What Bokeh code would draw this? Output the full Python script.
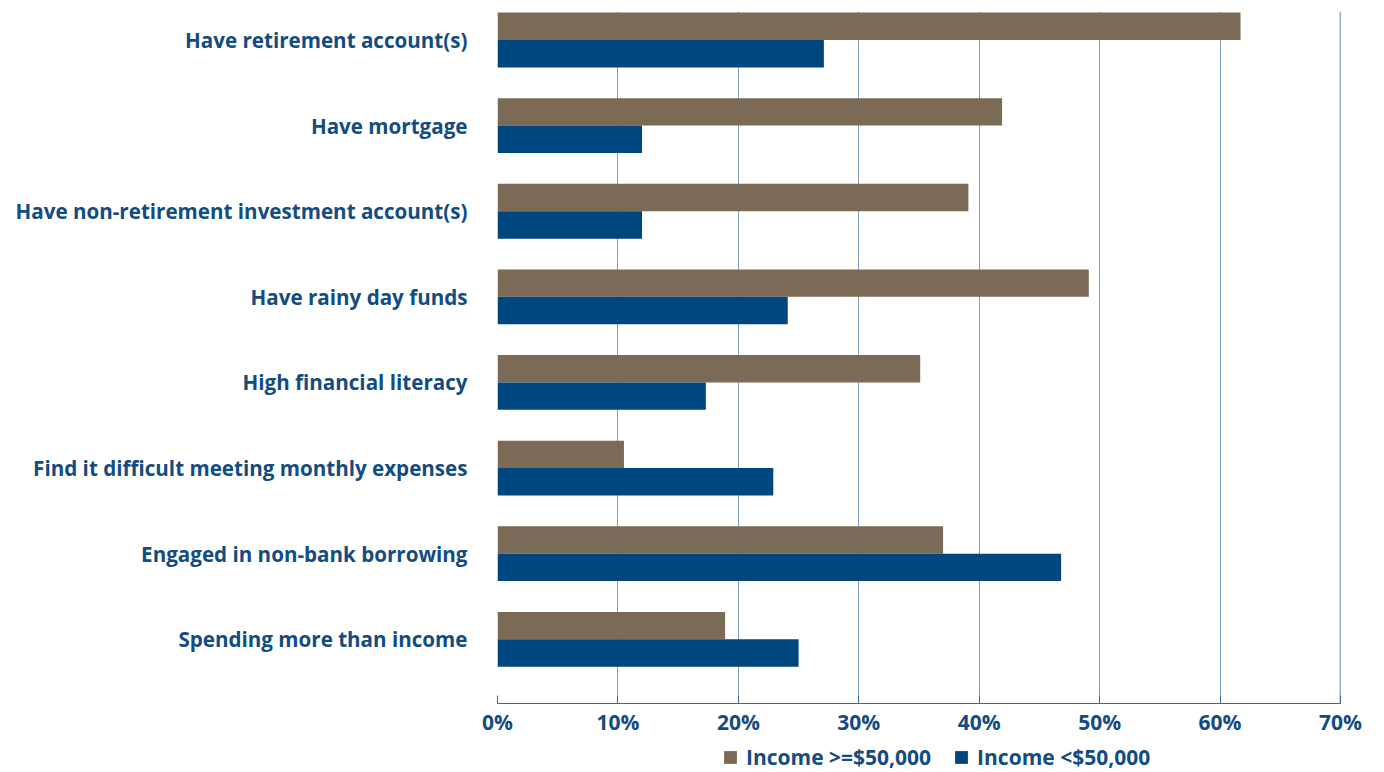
from bokeh.plotting import figure
from bokeh.layouts import column
from bokeh.models import Range1d, FixedTicker, Legend, LegendItem, Span
from bokeh.embed import file_html
from bokeh.resources import INLINE

categories = [
    "Have retirement account(s)",
    "Have mortgage",
    "Have non-retirement investment account(s)",
    "Have rainy day funds",
    "High financial literacy",
    "Find it difficult meeting monthly expenses",
    "Engaged in non-bank borrowing",
    "Spending more than income",
]
income_high = [61.7, 41.9, 39.1, 49.1, 35.1, 10.5, 37.0, 18.9]
income_low = [27.1, 12.0, 12.0, 24.1, 17.3, 22.9, 46.8, 25.0]
series_names = ["Income >=$50,000", "Income <$50,000"]
x_ticks = [0, 10, 20, 30, 40, 50, 60, 70]

BROWN = "#7b6a55"
BLUE = "#00467f"
TEXT = "#124c80"
FONT = "Open Sans"

pos = list(range(len(categories)))
bar_h = 0.32

p = figure(width=1384, height=740, output_backend="svg", toolbar_location=None,
           x_range=Range1d(0, 70), y_range=Range1d(7.75, -0.333),
           min_border_left=497, min_border_right=44, min_border_top=11, min_border_bottom=37)
p.outline_line_color = None

r1 = p.hbar(y=[i - bar_h / 2 for i in pos], right=income_high, left=0, height=bar_h,
            fill_color=BROWN, line_color=None)
r2 = p.hbar(y=[i + bar_h / 2 for i in pos], right=income_low, left=0, height=bar_h,
            fill_color=BLUE, line_color=None)

# x axis
xa = p.xaxis[0]
xa.ticker = FixedTicker(ticks=x_ticks)
xa.major_label_overrides = {t: f"{t}%" for t in x_ticks}
xa.major_tick_in = 8
xa.major_tick_out = 0
xa.minor_tick_line_color = None
xa.axis_line_color = "#3a6a98"
xa.major_tick_line_color = "#3a6a98"
xa.major_label_text_font = FONT
xa.major_label_text_font_style = "bold"
xa.major_label_text_font_size = "21px"
xa.major_label_text_color = TEXT
xa.major_label_standoff = 4

# y axis
ya = p.yaxis[0]
ya.ticker = FixedTicker(ticks=pos)
ya.major_label_overrides = {i: c for i, c in zip(pos, categories)}
ya.axis_line_color = None
ya.major_tick_line_color = None
ya.minor_tick_line_color = None
ya.major_label_text_font = FONT
ya.major_label_text_font_style = "bold"
ya.major_label_text_font_size = "20.6px"
ya.major_label_text_color = TEXT
ya.major_label_standoff = 24

p.xgrid.ticker = FixedTicker(ticks=x_ticks)
p.xgrid.grid_line_color = "#7d9fc0"
p.xgrid.grid_line_width = 1
p.ygrid.grid_line_color = None

p.add_layout(Span(location=70, dimension="height", line_color="#2a6399", line_width=1.5))

# legend row (dummy renderers sit outside the visible range; only their legend swatches show)
p2 = figure(width=1384, height=32, output_backend="svg", toolbar_location=None,
            x_range=Range1d(0, 1), y_range=Range1d(0, 1),
            min_border=0, min_border_left=0, min_border_right=0,
            min_border_top=0, min_border_bottom=0)
p2.axis.visible = False
p2.grid.visible = False
p2.outline_line_color = None
d1 = p2.hbar(y=[-5], right=[-5], left=[-6], height=0.5, fill_color=BROWN, line_color=None)
d2 = p2.hbar(y=[-5], right=[-5], left=[-6], height=0.5, fill_color=BLUE, line_color=None)

legend = Legend(items=[LegendItem(label=series_names[0], renderers=[d1]),
                       LegendItem(label=series_names[1], renderers=[d2])],
                location=(225, 1), orientation="horizontal",
                border_line_color=None, background_fill_alpha=0,
                padding=0, margin=0, spacing=22,
                glyph_width=16, glyph_height=16, label_height=16, label_standoff=8,
                label_text_font=FONT, label_text_font_size="21px",
                label_text_color=TEXT, label_text_font_style="bold")
p2.add_layout(legend, "center")

layout = column(p, p2, spacing=0)
open("out.html", "w").write(file_html(layout, INLINE))
